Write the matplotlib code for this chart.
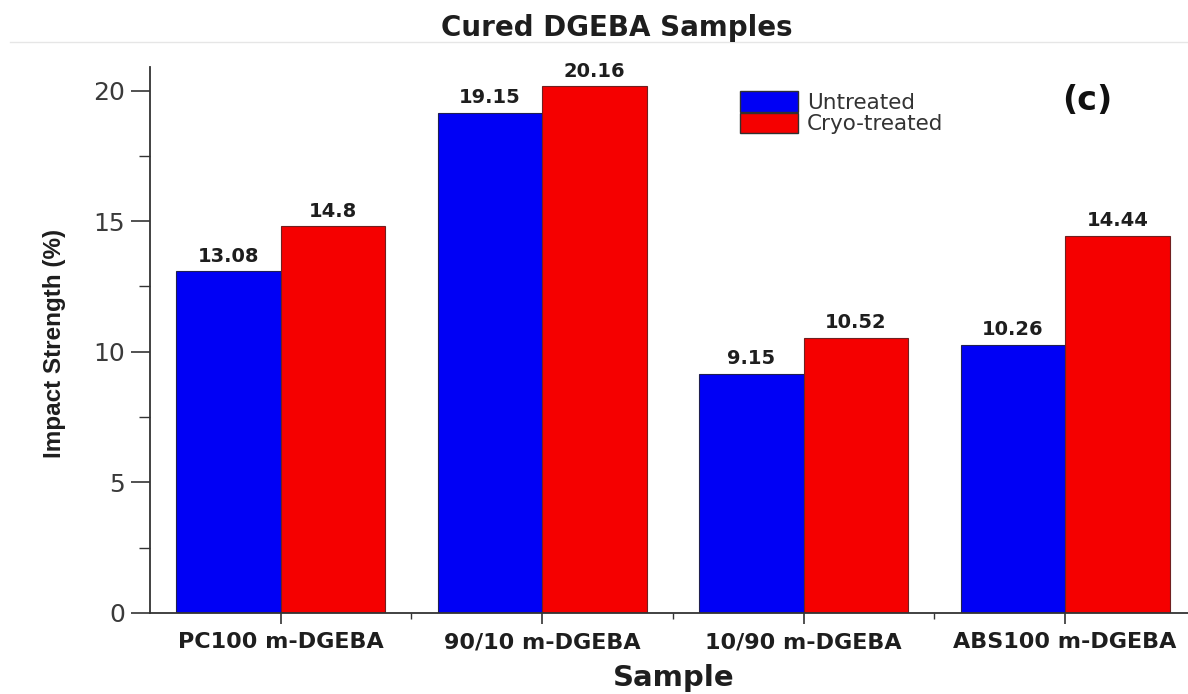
import matplotlib
matplotlib.use("Agg")
import matplotlib.pyplot as plt
from matplotlib import font_manager
from matplotlib.patches import Patch
from matplotlib.ticker import MultipleLocator, FixedLocator
import numpy as np

plt.rcParams['font.family'] = ['DejaVu Sans']

installed = {f.name for f in font_manager.fontManager.ttflist}
narrow = "Liberation Sans Narrow" if "Liberation Sans Narrow" in installed else None

samples = ["PC100 m-DGEBA", "90/10 m-DGEBA", "10/90 m-DGEBA", "ABS100 m-DGEBA"]
untreated = [13.08, 19.15, 9.15, 10.26]
cryo = [14.8, 20.16, 10.52, 14.44]
untreated_labels = ["13.08", "19.15", "9.15", "10.26"]
cryo_labels = ["14.8", "20.16", "10.52", "14.44"]

BLUE = "#0000f5"
RED = "#f50000"
INK = "#1e1e1e"

fig = plt.figure(figsize=(11.88, 6.94), dpi=100)
ax = fig.add_axes([150/1188, 81/694, 1 - 150/1188, (613-67)/694])

x = np.arange(len(samples))
w = 0.4
b1 = ax.bar(x - w/2, untreated, w, color=BLUE, edgecolor="#202050", linewidth=0.8)
b2 = ax.bar(x + w/2, cryo, w, color=RED, edgecolor="#702020", linewidth=0.8)

for bars, labels in ((b1, untreated_labels), (b2, cryo_labels)):
    for rect, lab in zip(bars, labels):
        ax.text(rect.get_x() + rect.get_width()/2, rect.get_height() + 0.22, lab,
                ha="center", va="bottom", fontsize=14, fontweight="bold", color=INK)

ax.set_xlim(-0.5, 3.47)
ax.set_ylim(0, 20.9)
ax.set_xticks(x)
ax.set_xticklabels(samples, fontsize=16, fontweight="bold", color=INK)
ax.xaxis.set_minor_locator(FixedLocator([0.5, 1.5, 2.5]))
ax.yaxis.set_major_locator(MultipleLocator(5))
ax.yaxis.set_minor_locator(MultipleLocator(2.5))
ax.tick_params(axis="x", which="major", direction="out", length=8, width=1.2, color="#333333", pad=6)
ax.tick_params(axis="x", which="minor", direction="out", length=4, width=1.0, color="#333333")
ax.tick_params(axis="y", which="major", direction="out", length=14, width=1.2, color="#333333",
               labelsize=18, labelcolor="#3a3a3a", pad=4)
ax.tick_params(axis="y", which="minor", direction="out", length=8, width=1.0, color="#333333")

for side in ["top", "right"]:
    ax.spines[side].set_visible(False)
for side in ["left", "bottom"]:
    ax.spines[side].set_linewidth(1.3)
    ax.spines[side].set_color("#333333")

if narrow:
    ax.set_ylabel("Impact Strength (%)", fontsize=21, fontweight="bold", color=INK,
                  family=[narrow, "Liberation Sans"])
else:
    ax.set_ylabel("Impact Strength (%)", fontsize=17.5, fontweight="bold", color=INK,
                  family=["Liberation Sans", "DejaVu Sans"])
ax.yaxis.set_label_coords((66 - 150)/1038, (613 - 343)/546)

ax.set_xlabel("Sample", fontsize=21, fontweight="bold", color=INK)
ax.xaxis.set_label_coords((674 - 150)/1038, -(678 - 613)/546)
ax.xaxis.label.set_va("center")

fig.text(617/1188, 1 - 28/694, "Cured DGEBA Samples", ha="center", va="center",
         fontsize=20, fontweight="bold", color=INK)
fig.add_artist(plt.Line2D([10/1188, 1.0], [1 - 42/694, 1 - 42/694], color="#e6e6e6", linewidth=1))

handles = [Patch(facecolor=BLUE, edgecolor="#303030", label="Untreated"),
           Patch(facecolor=RED, edgecolor="#303030", label="Cryo-treated")]
leg = ax.legend(handles=handles, loc="upper left", frameon=False, fontsize=15.5,
                handlelength=2.7, handleheight=1.1, labelspacing=0.0, handletextpad=0.4,
                borderaxespad=0.0, borderpad=0.0, labelcolor="#333333")
leg.set_bbox_to_anchor(((740 - 150)/1038, 1.0 - (91 - 67)/546), transform=ax.transAxes)

ax.text((1062 - 150)/1038, 1.0 - (100 - 67)/546, "(c)", transform=ax.transAxes,
        fontsize=24, fontweight="bold", color="#111111", ha="left", va="center")

fig.savefig("out.png", dpi=100)
